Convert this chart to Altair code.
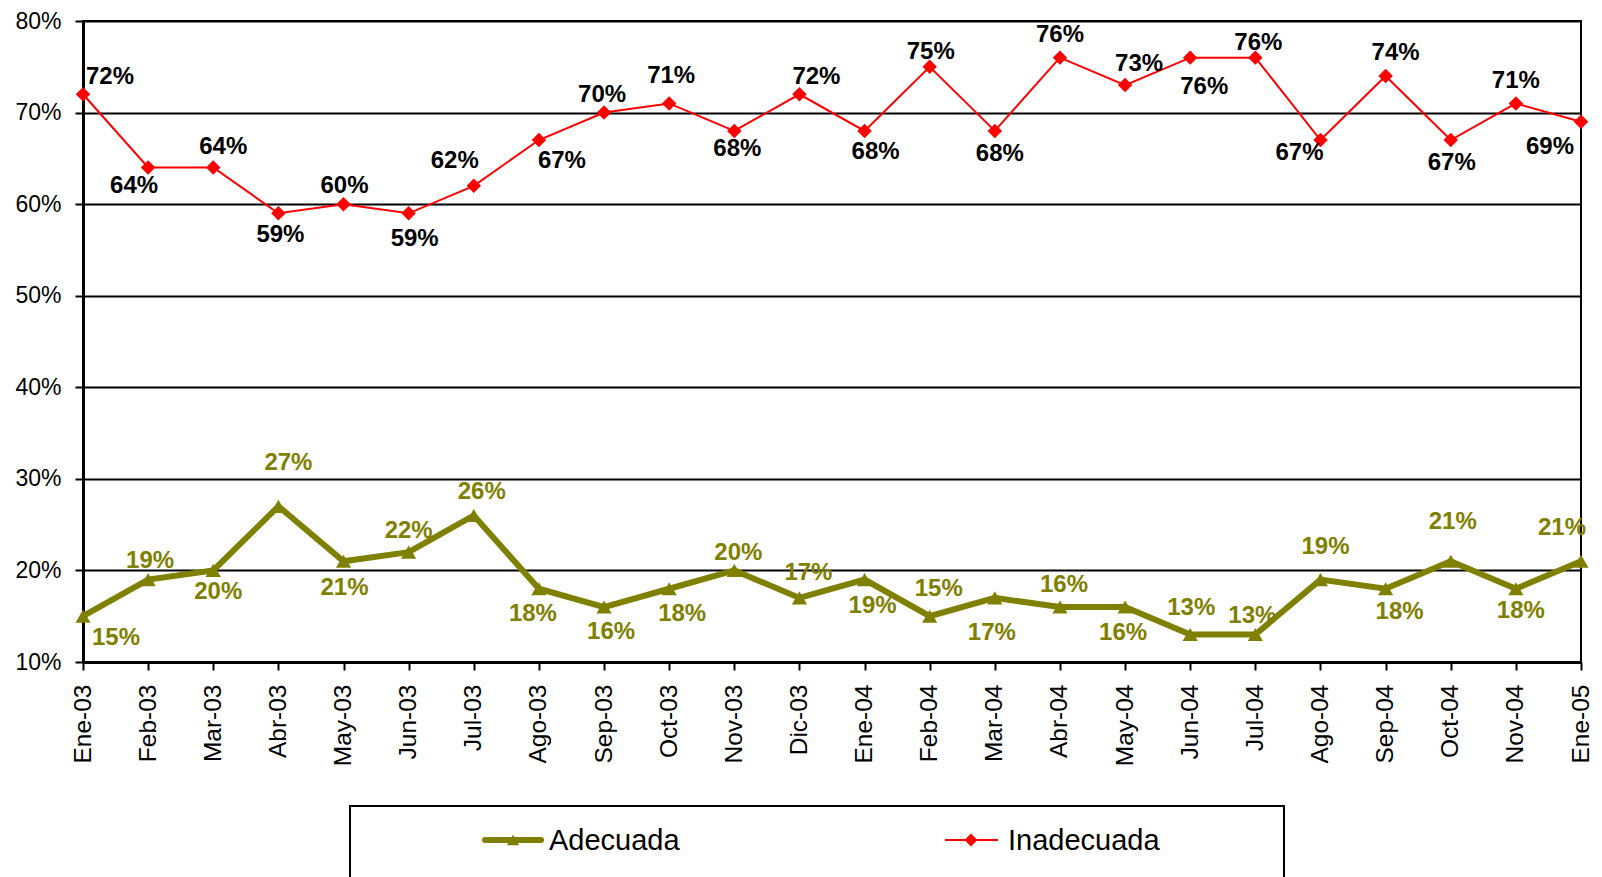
import altair as alt
import pandas as pd

months = ["Ene-03", "Feb-03", "Mar-03", "Abr-03", "May-03", "Jun-03", "Jul-03", "Ago-03",
          "Sep-03", "Oct-03", "Nov-03", "Dic-03", "Ene-04", "Feb-04", "Mar-04", "Abr-04",
          "May-04", "Jun-04", "Jul-04", "Ago-04", "Sep-04", "Oct-04", "Nov-04", "Ene-05"]
adecuada = [15, 19, 20, 27, 21, 22, 26, 18, 16, 18, 20, 17, 19, 15, 17, 16, 16, 13, 13, 19, 18, 21, 18, 21]
inadecuada = [72, 64, 64, 59, 60, 59, 62, 67, 70, 71, 68, 72, 68, 75, 68, 76, 73, 76, 76, 67, 74, 67, 71, 69]
y_ticks = [0.1, 0.2, 0.3, 0.4, 0.5, 0.6, 0.7, 0.8]

# label placement (pixel offsets of each data label from its point)
adecuada_dx = [33, 2, 5, 10, 1, 0, 8, -6, 7, 13, 4, 9, 8, 9, -3, 4, -2, 1, -3, 5, 14, 2, 5, -19]
adecuada_dy = [22, -19, 22, -43, 27, -21, -23, 25, 25, 25, -17, -25, 26, -27, 35, -22, 26, -27, -19, -33, 23, -39, 22, -33]
inadecuada_dx = [27, -14, 10, 2, 1, 6, -19, 23, -2, 2, 3, 17, 11, 1, 5, 0, 14, 14, 3, -21, 10, 1, 0, -31]
inadecuada_dy = [-17, 18, -21, 22, -18, 26, -25, 21, -18, -27, 18, -17, 21, -15, 23, -23, -21, 29, -15, 13, -23, 23, -22, 25]

FONT = "Liberation Sans"
OLIVE = "#808000"
RED = "#FF0000"
W, H = 1498, 641
Y_MIN, Y_MAX = 0.1, 0.8

df_ad = pd.DataFrame({"mes": months, "valor": [v / 100 for v in adecuada],
                      "dx": adecuada_dx, "dy": adecuada_dy})
df_in = pd.DataFrame({"mes": months, "valor": [v / 100 for v in inadecuada],
                      "dx": inadecuada_dx, "dy": inadecuada_dy})

x_scale = alt.Scale(type="point", padding=0)
y_scale = alt.Scale(domain=[Y_MIN, Y_MAX], nice=False, zero=False)

x_axis = alt.Axis(title=None, labelAngle=-90, labelFont=FONT, labelFontSize=24.5, labelColor="black",
                  labelPadding=14, labelOverlap=False, tickColor="black", tickWidth=2, tickSize=8,
                  domainColor="black", domainWidth=3, grid=False)
y_axis = alt.Axis(title=None, values=y_ticks, format=".0%", labelFont=FONT, labelFontSize=23,
                  labelColor="black", labelPadding=14, tickColor="black", tickWidth=2, tickSize=8,
                  domainColor="black", domainWidth=3, grid=True, gridColor="black", gridWidth=2,
                  labelOverlap=False)

X = alt.X("mes:N", sort=months, scale=x_scale, axis=x_axis)
Y = alt.Y("valor:Q", scale=y_scale, axis=y_axis)
YL = alt.Y("ly:Q", scale=y_scale, axis=y_axis)

px_to_data = (Y_MAX - Y_MIN) / H

base_in = alt.Chart(df_in)
base_ad = alt.Chart(df_ad)

line_in = base_in.mark_line(color=RED, strokeWidth=2).encode(x=X, y=Y)
pts_in = base_in.mark_point(shape="diamond", filled=True, size=210, color=RED, opacity=1).encode(x=X, y=Y)
txt_in = base_in.transform_calculate(ly=f"datum.valor - datum.dy * {px_to_data}").mark_text(
    font=FONT, fontSize=24, fontWeight="bold", color="black", align="center", baseline="middle").encode(
    x=X, y=YL, text=alt.Text("valor:Q", format=".0%"),
    xOffset=alt.XOffset("dx:Q", scale=None))

line_ad = base_ad.mark_line(color=OLIVE, strokeWidth=6).encode(x=X, y=Y)
pts_ad = base_ad.mark_point(shape="triangle-up", filled=True, size=230, color=OLIVE, opacity=1).encode(x=X, y=Y)
txt_ad = base_ad.transform_calculate(ly=f"datum.valor - datum.dy * {px_to_data}").mark_text(
    font=FONT, fontSize=24, fontWeight="bold", color=OLIVE, align="center", baseline="middle").encode(
    x=X, y=YL, text=alt.Text("valor:Q", format=".0%"),
    xOffset=alt.XOffset("dx:Q", scale=None))

# legend (drawn by hand to mimic the boxed line+marker legend)
leg_ad = alt.Chart(pd.DataFrame({"serie": ["Adecuada"]}))
leg_in = alt.Chart(pd.DataFrame({"serie": ["Inadecuada"]}))

frame = leg_ad.mark_rect(fill="transparent", stroke="black", strokeWidth=2).encode(
    x=alt.value(267), x2=alt.value(1201), y=alt.value(785), y2=alt.value(950))
l1 = leg_ad.mark_rule(color=OLIVE, strokeWidth=6, strokeCap="round").encode(
    x=alt.value(402), x2=alt.value(458), y=alt.value(819))
m1 = leg_ad.mark_point(shape="triangle-up", filled=True, size=150, color=OLIVE, opacity=1).encode(
    x=alt.value(430), y=alt.value(819))
t1 = leg_ad.mark_text(font=FONT, fontSize=29, color="black", align="left", baseline="middle").encode(
    x=alt.value(466), y=alt.value(820), text="serie:N")
l2 = leg_in.mark_rule(color=RED, strokeWidth=2).encode(
    x=alt.value(862), x2=alt.value(915), y=alt.value(819))
m2 = leg_in.mark_point(shape="diamond", filled=True, size=170, color=RED, opacity=1).encode(
    x=alt.value(888), y=alt.value(819))
t2 = leg_in.mark_text(font=FONT, fontSize=29, color="black", align="left", baseline="middle").encode(
    x=alt.value(925), y=alt.value(820), text="serie:N")

chart = alt.layer(
    line_in, line_ad, pts_in, pts_ad, txt_in, txt_ad,
    frame, l1, m1, t1, l2, m2, t2
).properties(
    width=W, height=H,
    background="white",
    autosize=alt.AutoSizeParams(type="none"),
    padding={"left": 75, "top": 13, "right": 13, "bottom": 215},
).configure_view(
    stroke="black", strokeWidth=2
)

chart.save("out.html", embed_options={"renderer": "svg", "actions": False})
